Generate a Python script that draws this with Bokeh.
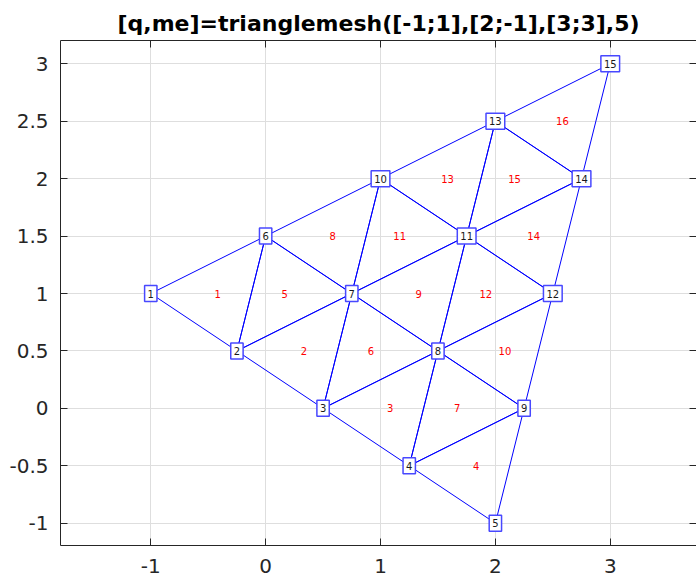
from bokeh.plotting import figure
from bokeh.models import LinearAxis, FixedTicker, Range1d, Grid
from bokeh.core.properties import value
from bokeh.embed import file_html
from bokeh.resources import INLINE

# ---- data ----
node_x = [-1, -0.25, 0.5, 1.25, 2, 0, 0.75, 1.5, 2.25, 1, 1.75, 2.5, 2, 2.75, 3]
node_y = [1, 0.5, 0, -0.5, -1, 1.5, 1, 0.5, 0, 2, 1.5, 1, 2.5, 2, 3]
elem_a = [1, 2, 3, 4, 2, 3, 4, 6, 7, 8, 7, 8, 10, 11, 11, 13]
elem_b = [2, 3, 4, 5, 7, 8, 9, 7, 8, 9, 11, 12, 11, 12, 14, 14]
elem_c = [6, 7, 8, 9, 6, 7, 8, 10, 11, 12, 10, 11, 13, 14, 13, 15]
x_ticks = [-1, 0, 1, 2, 3]
x_tick_labels = ["-1", "0", "1", "2", "3"]
y_ticks = [-1, -0.5, 0, 0.5, 1, 1.5, 2, 2.5, 3]
y_tick_labels = ["-1", "-0.5", "0", "0.5", "1", "1.5", "2", "2.5", "3"]
title_text = "[q,me]=trianglemesh([-1;1],[2;-1],[3;3],5)"

FONT = "DejaVu Sans"
AXC = "#262626"

p = figure(width=696, height=580, output_backend="svg", toolbar_location=None,
           x_range=Range1d(-1.786, 3.751), y_range=Range1d(-1.194, 3.203),
           x_axis_type=None, y_axis_type=None,
           min_border_left=60, min_border_right=0, min_border_top=40, min_border_bottom=35)
p.outline_line_color = None
p.background_fill_color = "white"
p.border_fill_color = "white"

p.title.text = title_text
p.title.text_font = FONT
p.title.text_font_style = "bold"
p.title.text_font_size = "22px"
p.title.text_color = "black"
p.title.align = "center"


def mk_axis(ticks, labels, show, standoff=0, line=True):
    ax = LinearAxis(ticker=FixedTicker(ticks=ticks))
    ax.major_label_overrides = {t: s for t, s in zip(ticks, labels)}
    ax.axis_line_color = AXC if line else None
    ax.major_tick_line_color = AXC
    ax.major_tick_in = 7
    ax.major_tick_out = 0
    ax.minor_tick_line_color = None
    ax.major_label_text_font = FONT
    ax.major_label_text_color = AXC
    if show:
        ax.major_label_text_font_size = "20px"
        ax.major_label_standoff = standoff
    else:
        ax.major_label_text_font_size = "0px"
        ax.major_label_standoff = 0
        ax.major_label_text_alpha = 0
    return ax


p.add_layout(mk_axis(x_ticks, x_tick_labels, True, 13), "below")
p.add_layout(mk_axis(y_ticks, y_tick_labels, True, 12), "left")
p.add_layout(mk_axis(x_ticks, x_tick_labels, False), "above")
p.add_layout(mk_axis(y_ticks, y_tick_labels, False, line=False), "right")

p.add_layout(Grid(dimension=0, ticker=FixedTicker(ticks=x_ticks),
                  grid_line_color="#dedede", grid_line_width=1))
p.add_layout(Grid(dimension=1, ticker=FixedTicker(ticks=y_ticks),
                  grid_line_color="#dedede", grid_line_width=1))

# triangles
xs, ys, cx, cy, elabels = [], [], [], [], []
for k, (a, b, c) in enumerate(zip(elem_a, elem_b, elem_c)):
    tx = [node_x[a - 1], node_x[b - 1], node_x[c - 1]]
    ty = [node_y[a - 1], node_y[b - 1], node_y[c - 1]]
    xs.append(tx)
    ys.append(ty)
    cx.append(sum(tx) / 3)
    cy.append(sum(ty) / 3)
    elabels.append(str(k + 1))

p.patches(xs, ys, fill_color=None, line_color="#0000ff", line_width=1)

p.text(cx, cy, text=elabels, text_color="#ff0000", text_font=value(FONT),
       text_font_size="10px", text_align="center", text_baseline="middle")

nlabels = [str(i + 1) for i in range(len(node_x))]
p.text(node_x, node_y, text=nlabels, text_color="#1a1a1a", text_font=value(FONT),
       text_font_size="10px", text_align="center", text_baseline="middle",
       background_fill_color="white", border_line_color="#4848ff",
       border_line_width=1.5, padding=(3, 4))

open("out.html", "w").write(file_html(p, INLINE))
